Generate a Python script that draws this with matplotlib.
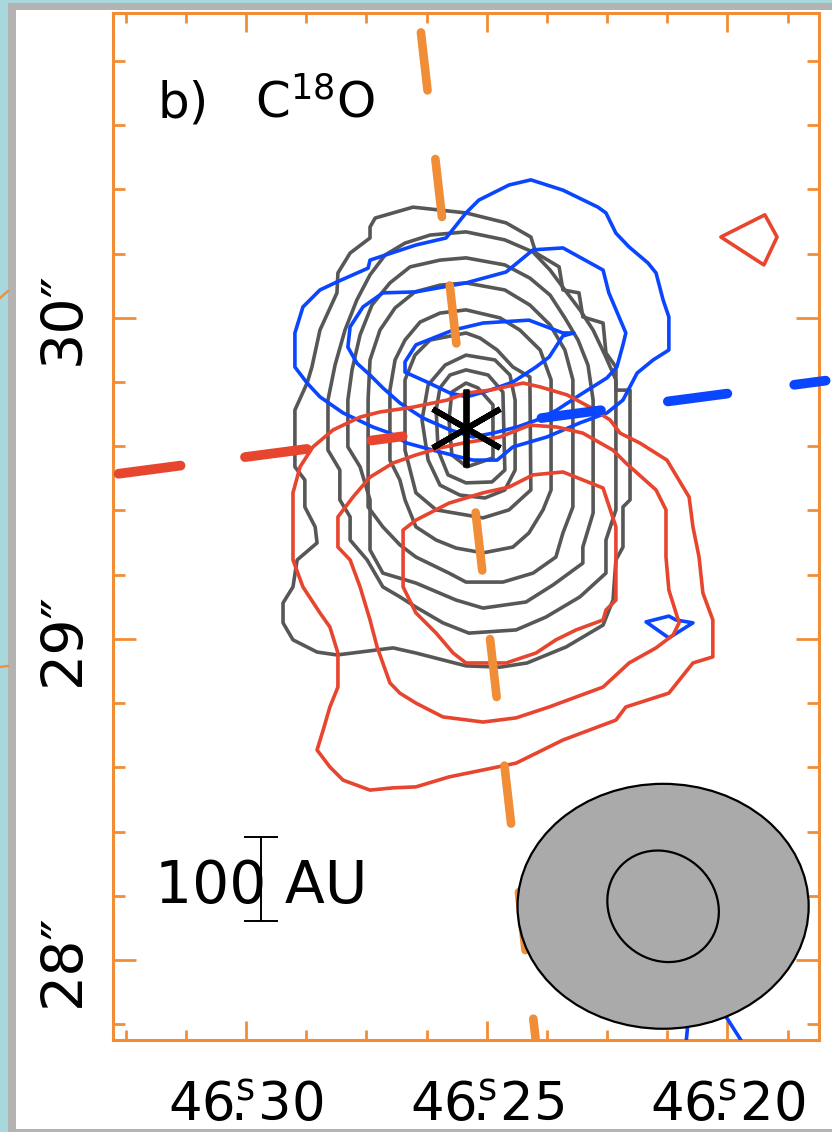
import numpy as np
import matplotlib
matplotlib.use("Agg")
import matplotlib.pyplot as plt
from matplotlib.patches import Ellipse, Polygon, Rectangle
from matplotlib.lines import Line2D

plt.rcParams['font.family'] = ['DejaVu Sans']
plt.rcParams['mathtext.fontset'] = 'custom'
plt.rcParams['mathtext.rm'] = 'DejaVu Sans'
plt.rcParams['lines.scale_dashes'] = False

# position of the protostar: RA = xxh xxm 46.2543s, Dec = +xx xx' 29.657"
ra_star = 46.2543
dec_star = 29.657
arcsec_per_s = 15.0

ra_major = [46.30, 46.25, 46.20]
ra_minor = [46.325, 46.3125, 46.2875, 46.275, 46.2625, 46.2375, 46.225, 46.2125, 46.1875]
dec_major = [28, 29, 30]
dec_minor = [27.8, 28.2, 28.4, 28.6, 28.8, 29.2, 29.4, 29.6, 29.8, 30.2, 30.4, 30.6, 30.8]

# contours, offsets from the star in arcsec (east, north)
# C18O integrated intensity (grey), outer -> inner
gray_1 = [(0.283, 0.654), (0.165, 0.688), (0, 0.670), (-0.125, 0.639), (-0.202, 0.595),
          (-0.218, 0.545), (-0.290, 0.502), (-0.302, 0.430), (-0.352, 0.421), (-0.364, 0.346),
          (-0.427, 0.327), (-0.436, 0.234), (-0.467, 0.190), (-0.467, 0.118), (-0.511, 0.118),
          (-0.511, -0.224), (-0.489, -0.246), (-0.489, -0.371), (-0.467, -0.411), (-0.458, -0.536),
          (-0.427, -0.614), (-0.312, -0.682), (-0.190, -0.732), (-0.106, -0.745), (0, -0.741),
          (0.156, -0.701), (0.227, -0.685), (0.330, -0.698), (0.402, -0.707), (0.464, -0.698),
          (0.539, -0.660), (0.570, -0.607), (0.570, -0.545), (0.539, -0.495), (0.526, -0.411),
          (0.464, -0.358), (0.470, -0.308), (0.502, -0.246), (0.502, -0.162), (0.533, -0.121),
          (0.533, 0.056), (0.495, 0.140), (0.480, 0.190), (0.455, 0.305), (0.402, 0.421),
          (0.399, 0.483), (0.361, 0.545), (0.299, 0.592), (0.299, 0.626)]
gray_2 = [(0, 0.611), (-0.121, 0.586), (-0.209, 0.548), (-0.262, 0.492), (-0.308, 0.430),
          (-0.355, 0.368), (-0.396, 0.305), (-0.433, 0.227), (-0.467, 0.150), (-0.467, -0.255),
          (-0.436, -0.349), (-0.436, -0.452), (-0.355, -0.526), (-0.249, -0.589), (-0.156, -0.629),
          (-0.009, -0.639), (0.072, -0.607), (0.156, -0.558), (0.206, -0.526), (0.259, -0.495),
          (0.308, -0.411), (0.361, -0.349), (0.361, -0.277), (0.393, -0.224), (0.393, -0.131),
          (0.430, -0.069), (0.430, 0.087), (0.408, 0.196), (0.377, 0.305), (0.340, 0.399),
          (0.299, 0.477), (0.252, 0.539), (0.190, 0.576), (0.112, 0.601)]
gray_3 = [(0, 0.530), (-0.121, 0.508), (-0.199, 0.467), (-0.262, 0.414), (-0.308, 0.343),
          (-0.349, 0.274), (-0.380, 0.196), (-0.396, 0.087), (-0.396, -0.265), (-0.364, -0.371),
          (-0.364, -0.421), (-0.271, -0.489), (-0.187, -0.542), (-0.053, -0.561), (0.031, -0.536),
          (0.156, -0.483), (0.259, -0.452), (0.299, -0.380), (0.299, -0.224), (0.330, -0.121),
          (0.368, -0.059), (0.368, 0.087), (0.355, 0.181), (0.330, 0.290), (0.293, 0.383),
          (0.237, 0.452), (0.174, 0.502), (0.081, 0.523)]
gray_4 = [(0, 0.452), (-0.121, 0.430), (-0.199, 0.383), (-0.262, 0.321), (-0.308, 0.243),
          (-0.333, 0.150), (-0.333, -0.246), (-0.302, -0.327), (-0.280, -0.402), (-0.209, -0.452),
          (-0.115, -0.480), (0, -0.480), (0.053, -0.452), (0.156, -0.402), (0.206, -0.364),
          (0.259, -0.308), (0.305, -0.246), (0.305, 0.087), (0.299, 0.212), (0.268, 0.305),
          (0.221, 0.374), (0.159, 0.424), (0.081, 0.445)]
gray_5 = [(0, 0.368), (-0.106, 0.343), (-0.168, 0.305), (-0.231, 0.243), (-0.265, 0.150),
          (-0.265, -0.193), (-0.240, -0.255), (-0.196, -0.327), (-0.146, -0.371), (-0.053, -0.389),
          (0.031, -0.374), (0.093, -0.349), (0.156, -0.308), (0.190, -0.224), (0.206, -0.162),
          (0.237, -0.100), (0.237, 0.118), (0.221, 0.212), (0.190, 0.274), (0.143, 0.330),
          (0.081, 0.358)]
gray_6 = [(0, 0.296), (-0.044, 0.280), (-0.097, 0.243), (-0.146, 0.190), (-0.199, 0.159),
          (-0.202, -0.193), (-0.134, -0.255), (-0.053, -0.280), (0.093, -0.255), (0.156, -0.202),
          (0.190, -0.069), (0.190, 0.150), (0.159, 0.227), (0.112, 0.274)]
gray_7 = [(0, 0.227), (-0.090, 0.212), (-0.137, 0.165), (-0.153, 0.087), (-0.153, -0.131),
          (-0.121, -0.193), (-0.059, -0.218), (0.019, -0.209), (0.081, -0.178), (0.118, -0.100),
          (0.137, 0.025), (0.118, 0.134), (0.065, 0.196)]
gray_8 = [(0, 0.181), (-0.069, 0.165), (-0.115, 0.112), (-0.121, -0.131), (-0.081, -0.168),
          (0, -0.171), (0.056, -0.146), (0.087, -0.069), (0.093, 0.056), (0.081, 0.125),
          (0.050, 0.165)]
gray_9 = [(0.044, 0.112), (0, 0.140), (-0.037, 0.125), (-0.084, 0.072), (-0.084, -0.093),
          (-0.003, -0.121), (0.044, -0.084), (0.053, 0.025)]

# blueshifted emission
blue_1 = [(0.156, 0.570), (0.062, 0.592), (0, 0.670), (-0.040, 0.710), (-0.134, 0.757),
          (-0.202, 0.773), (-0.302, 0.741), (-0.411, 0.688), (-0.436, 0.670), (-0.467, 0.607),
          (-0.508, 0.564), (-0.567, 0.514), (-0.592, 0.483), (-0.614, 0.399), (-0.632, 0.346),
          (-0.632, 0.243), (-0.583, 0.212), (-0.533, 0.171), (-0.489, 0.087), (-0.439, 0.047),
          (-0.355, 0.016), (-0.252, -0.028), (-0.146, -0.059), (-0.097, -0.100), (-0.022, -0.100),
          (0.009, -0.093), (0.103, -0.069), (0.184, -0.047), (0.237, -0.016), (0.290, 0.003),
          (0.383, 0.047), (0.455, 0.097), (0.495, 0.140), (0.533, 0.190), (0.533, 0.296),
          (0.508, 0.377), (0.455, 0.430), (0.402, 0.455), (0.305, 0.498), (0.299, 0.523)]
blue_2 = [(0.156, 0.424), (0, 0.452), (-0.125, 0.486), (-0.209, 0.555), (-0.302, 0.561),
          (-0.427, 0.492), (-0.445, 0.421), (-0.498, 0.296), (-0.489, 0.259), (-0.470, 0.190),
          (-0.439, 0.156), (-0.355, 0.103), (-0.283, 0.056), (-0.221, 0.025), (-0.159, 0.003),
          (-0.084, -0.016), (-0.022, -0.028), (0.050, -0.006), (0.134, 0.031), (0.206, 0.078),
          (0.259, 0.125), (0.299, 0.165), (0.340, 0.202), (0.368, 0.252), (0.361, 0.315),
          (0.321, 0.377), (0.259, 0.421)]
blue_3 = [(0.190, 0.206), (0.156, 0.259), (0.040, 0.305), (-0.053, 0.327), (-0.196, 0.336),
          (-0.302, 0.296), (-0.336, 0.296), (-0.302, 0.287), (-0.259, 0.221), (-0.218, 0.190),
          (-0.146, 0.143), (-0.075, 0.118), (-0.003, 0.097), (0.050, 0.109), (0.121, 0.143),
          (0.190, 0.174)]
blue_4 = [(-0.561, -0.604), (-0.632, -0.586), (-0.654, -0.598), (-0.707, -0.607), (-0.632, -0.654)]
blue_5 = [(-0.685, -1.922), (-0.698, -1.782), (-0.766, -1.735), (-0.807, -1.829), (-0.866, -1.922)]

# redshifted emission
red_1 = [(0.330, 0.034), (0.268, 0.050), (0.165, 0.065), (0.059, 0.087), (-0.003, 0.109),
         (-0.075, 0.118), (-0.178, 0.140), (-0.231, 0.128), (-0.315, 0.103), (-0.386, 0.065),
         (-0.449, 0.025), (-0.480, -0.016), (-0.542, -0.047), (-0.626, -0.100), (-0.695, -0.215),
         (-0.707, -0.308), (-0.726, -0.402), (-0.738, -0.514), (-0.769, -0.598), (-0.769, -0.713),
         (-0.707, -0.732), (-0.632, -0.826), (-0.498, -0.869), (-0.467, -0.910), (-0.302, -0.972),
         (-0.156, -1.044), (-0.084, -1.059), (0.053, -1.087), (0.156, -1.118), (0.227, -1.121),
         (0.299, -1.128), (0.383, -1.097), (0.424, -1.056), (0.464, -1.003), (0.445, -0.941),
         (0.424, -0.869), (0.399, -0.807), (0.399, -0.701), (0.424, -0.620), (0.455, -0.576),
         (0.508, -0.495), (0.539, -0.411), (0.539, -0.202), (0.517, -0.121), (0.477, -0.059),
         (0.414, -0.006)]
red_2 = [(0.399, -0.277), (0.352, -0.215), (0.299, -0.153), (0.227, -0.109), (0.156, -0.084),
         (0.081, -0.062), (0.009, -0.047), (-0.106, -0.028), (-0.199, 0.009), (-0.283, 0.003),
         (-0.364, -0.016), (-0.458, -0.069), (-0.498, -0.109), (-0.592, -0.193), (-0.623, -0.255),
         (-0.623, -0.402), (-0.632, -0.505), (-0.664, -0.607), (-0.645, -0.645), (-0.592, -0.685),
         (-0.508, -0.732), (-0.427, -0.807), (-0.259, -0.869), (-0.156, -0.903), (-0.053, -0.916),
         (0.072, -0.900), (0.156, -0.857), (0.206, -0.826), (0.237, -0.794), (0.277, -0.682),
         (0.299, -0.598), (0.330, -0.495), (0.361, -0.411), (0.399, -0.371)]
red_3 = [(0.196, -0.318), (0.156, -0.287), (0.053, -0.234), (-0.053, -0.202), (-0.134, -0.184),
         (-0.209, -0.146), (-0.302, -0.137), (-0.427, -0.187), (-0.467, -0.308), (-0.467, -0.536),
         (-0.436, -0.567), (-0.427, -0.598), (-0.343, -0.629), (-0.280, -0.660), (-0.218, -0.701),
         (-0.125, -0.732), (0, -0.732), (0.040, -0.701), (0.093, -0.639), (0.156, -0.576),
         (0.196, -0.495)]
red_4 = [(-0.794, 0.595), (-0.931, 0.664), (-0.969, 0.595), (-0.928, 0.508)]

# axes through the star: disk axis and outflow lobes (PA in deg, start/end radius in arcsec)
disk_pa = 6.5
disk_r = (0.265, 2.0)
red_pa = 97.5
red_r = (0.199, 1.10)
blue_pa = 277.5
blue_r = (0.237, 1.13)

# beams (arcsec, deg east of north) and scale bar
beam_big = (0.907, 0.763, 90.0)
beam_small = (0.364, 0.330, 45.0)
beam_pos = (-0.614, -1.490)
dist_pc = 385.0
bar_au = 100
bar_pos = (0.639, -1.405)

orange = '#f18d36'
c_gray = '#575757'
c_blue = '#0b46ff'
c_red = '#e8452f'
lw_c = 2.6

fig = plt.figure(figsize=(8.32, 11.32), dpi=100)
W, H = 832.0, 1132.0
# screenshot frame around the panel
teal = '#a9d8dc'
greyb = '#b3b3b3'
for (x0, y0, w, h, c) in [(0, 0, 8, H, teal), (0, H - 3, W, 3, teal),
                          (8, 0, 8, H - 3, greyb), (8, H - 10, W, 7, greyb),
                          (8, 0, W, 3, greyb)]:
    fig.add_artist(Rectangle((x0 / W, y0 / H), w / W, h / H, transform=fig.transFigure,
                             color=c, lw=0, zorder=0))
for (ya, yb) in [(298, 291), (667, 666)]:
    fig.add_artist(Line2D([0, 8 / W], [1 - ya / H, 1 - yb / H], transform=fig.transFigure,
                          color=orange, lw=1.6, zorder=1))

ax = fig.add_axes([113 / W, 92 / H, 706 / W, 1027 / H])
ax.set_xlim(1.0997, -1.0997)
ax.set_ylim(-1.9065, 1.2928)

for pts in [gray_1, gray_2, gray_3, gray_4, gray_5, gray_6, gray_7, gray_8, gray_9]:
    ax.add_patch(Polygon(pts, closed=True, fill=False, ec=c_gray, lw=lw_c, joinstyle='round', zorder=2))
for pts in [blue_1, blue_2, blue_3, blue_4, blue_5]:
    ax.add_patch(Polygon(pts, closed=True, fill=False, ec=c_blue, lw=lw_c, joinstyle='round', zorder=3))
for pts in [red_1, red_2, red_3, red_4]:
    ax.add_patch(Polygon(pts, closed=True, fill=False, ec=c_red, lw=lw_c, joinstyle='round', zorder=4))


def half_line(pa, r, color, lw, on, off, offset, clip):
    a = np.radians(pa)
    ex, ny = np.sin(a), np.cos(a)
    ax.plot([r[0] * ex, r[1] * ex], [r[0] * ny, r[1] * ny], color=color, lw=lw,
            linestyle=(offset, (on, off)), dash_capstyle='round', clip_on=clip, zorder=5)


half_line(disk_pa, disk_r, orange, 6.2, 42.0, 49.7, 0.0, True)
half_line(disk_pa + 180, disk_r, orange, 6.2, 42.0, 49.7, 0.0, True)
half_line(red_pa, red_r, c_red, 7.0, 45.0, 46.8, 22.3, False)
half_line(blue_pa, blue_r, c_blue, 7.0, 43.2, 48.6, 0.0, False)

# beams
ax.add_patch(Ellipse(beam_pos, beam_big[0], beam_big[1], angle=90 - beam_big[2],
                     fc='#aaaaaa', ec='black', lw=1.6, zorder=6))
ax.add_patch(Ellipse(beam_pos, beam_small[0], beam_small[1], angle=90 - beam_small[2],
                     fill=False, ec='black', lw=1.6, zorder=6))

# protostar
ax.plot([0], [0], marker=(6, 2, 0), ms=56, mew=4.2, color='black', zorder=8)

# scale bar
bar_len = bar_au / dist_pc
ax.errorbar([bar_pos[0]], [bar_pos[1]], yerr=bar_len / 2, fmt='none', ecolor='black',
            elinewidth=1.4, capsize=12, capthick=1.4, zorder=7)
ax.text(0.0595, 0.1334, f"{bar_au} AU", transform=ax.transAxes, fontsize=42,
        ha='left', va='baseline', zorder=7)

# panel label
ax.text(0.0637, 0.8987, "b)", transform=ax.transAxes, fontsize=36, ha='left', va='baseline')
ax.text(0.2011, 0.8987, r"C$^{\mathrm{18}}$O", transform=ax.transAxes, fontsize=36,
        ha='left', va='baseline')

# frame and ticks
for s in ax.spines.values():
    s.set_color(orange)
    s.set_linewidth(2.2)
ax.set_xticks([(r - ra_star) * arcsec_per_s for r in ra_major])
ax.set_xticks([(r - ra_star) * arcsec_per_s for r in ra_minor], minor=True)
ax.set_yticks([d - dec_star for d in dec_major])
ax.set_yticks([d - dec_star for d in dec_minor], minor=True)
ax.tick_params(which='both', direction='in', top=True, right=True, color=orange, width=2,
               labelbottom=False, labelleft=False)
ax.tick_params(axis='x', which='major', length=13.5)
ax.tick_params(axis='x', which='minor', length=7.2)
ax.tick_params(axis='y', which='major', length=16.5)
ax.tick_params(axis='y', which='minor', length=8.6)

for r in ra_major:
    whole, frac = f"{r:.2f}".split('.')
    ax.text((r - ra_star) * arcsec_per_s, -0.0798,
            whole + r"$^{\mathrm{s}}\!\!\!\mathrm{.}$" + frac,
            transform=ax.get_xaxis_transform(), ha='center', va='baseline', fontsize=38,
            clip_on=False)
for d in dec_major:
    ax.text(-0.0467, d - dec_star, f"{d}\u2033", transform=ax.get_yaxis_transform(),
            rotation=90, rotation_mode='anchor', ha='center', va='baseline', fontsize=41,
            clip_on=False)

fig.savefig("out.png", dpi=100, facecolor='white')
